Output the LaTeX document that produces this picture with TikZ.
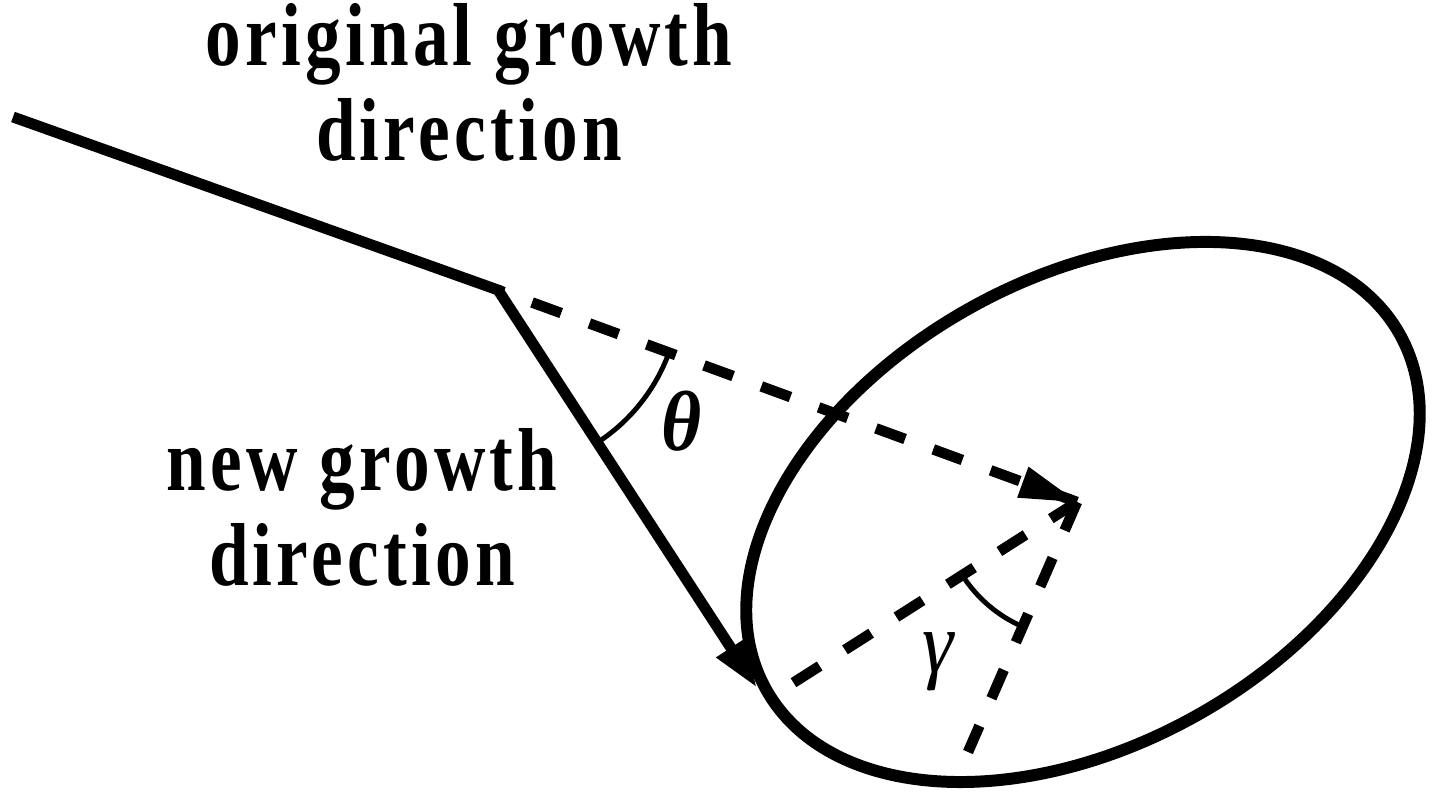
\documentclass[tikz,border=0pt]{standalone}
\usepackage{fontspec}
\setmainfont{Liberation Serif}
\usetikzlibrary{arrows.meta,calc}
\begin{document}
\begin{tikzpicture}[x=0.01cm,y=0.01cm,
  solidline/.style={line width=3.1pt},
  dashline/.style={line width=3pt, dash pattern=on 0.31cm off 0.30cm},
  anglearc/.style={line width=1.4pt},
  lbl/.style={font=\fontsize{22.5}{27}\selectfont\bfseries\addfontfeature{LetterSpace=6},
    inner sep=0pt, anchor=base, xscale=0.9, yscale=1.13},
  ]
\useasboundingbox (0,0) rectangle (1433,-792);
\coordinate (A) at (13,-117);
\coordinate (K) at (498,-290);
\coordinate (T) at (757,-688);
\coordinate (O) at (1077,-502);
\coordinate (L1) at (793,-683);
\coordinate (L2) at (968,-752);
\coordinate (C) at (1083,-512);

\draw[line width=3.4pt, rotate around={29.3:(C)}] (C) ellipse [x radius=3.63cm, y radius=2.33cm];
\draw[solidline, line join=miter, -{Triangle[length=0.48cm,width=0.32cm]}] (A) -- (K) -- (T);
\draw[dashline] (O) -- (K);
\draw[dashline] (O) -- (L1);
\draw[dashline] (O) -- (L2);
\fill (O) -- ($(O)!0.6cm!16:(K)$) -- ($(O)!0.6cm!-16:(K)$) -- cycle;
\draw[anglearc] ([shift={(-56.94:1.82cm)}]K) arc[start angle=-56.94, end angle=-20.11, radius=1.82cm];
\draw[anglearc] ([shift={(212.5:1.36cm)}]O) arc[start angle=212.5, end angle=246.44, radius=1.36cm];

\node[yscale=1.1] (theta) at (682,-421) {\fontsize{22}{26}\selectfont\bfseries\itshape θ};
\node[yscale=1.1] (gamma) at (938,-662) {\fontsize{22.5}{26}\selectfont\itshape γ};

\node[lbl] (orig1) at (469,-66) {original growth};
\node[lbl] (orig2) at (469,-161) {direction};
\node[lbl] (new1) at (362,-491) {new growth};
\node[lbl] (new2) at (362,-586) {direction};
\end{tikzpicture}
\end{document}
